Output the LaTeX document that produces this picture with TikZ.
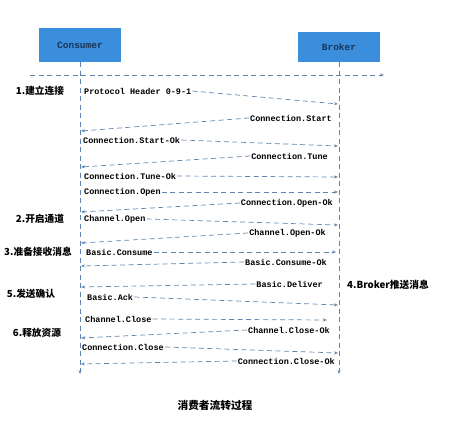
\documentclass[tikz,border=0pt]{standalone}
\usepackage{fontspec}
\newfontfamily\msgfont{Liberation Mono}
\newfontfamily\cjk{Noto Sans CJK SC}
\usetikzlibrary{arrows.meta,positioning}
\definecolor{boxBlue}{HTML}{3A8EDB}
\definecolor{lineBlue}{HTML}{5F84AE}
\definecolor{boxText}{HTML}{1B3558}

\tikzset{
    actor/.style={fill=boxBlue, text=boxText, minimum width=82pt, inner sep=0pt,
        font=\msgfont\bfseries\fontsize{9.5}{10}\selectfont},
    msg/.style={inner sep=1pt, font=\msgfont\bfseries\fontsize{8.5}{10}\selectfont},
    stage/.style={inner sep=0pt, font=\cjk\bfseries\fontsize{9.7}{11}\selectfont},
    flow/.style={draw=lineBlue, line width=0.7pt, dash pattern=on 5pt off 3.5pt,
        -{Stealth[length=4pt,width=3pt]}},
}

\begin{document}
\begin{tikzpicture}[x=1pt, y=-1pt]
    \useasboundingbox (0,0) rectangle (451,428);

    % participants
    \node[actor, minimum height=34pt] (consumer) at (80,45) {Consumer};
    \node[actor, minimum height=30pt] (broker) at (339,47) {Broker};
    \coordinate (cEnd) at (80,374);
    \coordinate (bEnd) at (339,374);
    \draw[flow] (consumer.south) -- (cEnd);
    \draw[flow] (broker.south) -- (bEnd);

    % top line
    \coordinate (topL) at (30,75);
    \coordinate (topR) at (384,75);
    \draw[flow] (topL) -- (topR);

    % messages
    \node[msg, anchor=west] (m1) at (83,91) {Protocol Header 0-9-1};
    \coordinate (e1) at (338,104);
    \draw[flow] (m1.east) -- (e1);
    \node[msg, anchor=east] (m2) at (333,118) {Connection.Start};
    \coordinate (e2) at (81,131);
    \draw[flow] (m2.west) -- (e2);
    \node[msg, anchor=west] (m3) at (82,140) {Connection.Start-Ok};
    \coordinate (e3) at (338,146);
    \draw[flow] (m3.east) -- (e3);
    \node[msg, anchor=east] (m4) at (329,156) {Connection.Tune};
    \coordinate (e4) at (81,167);
    \draw[flow] (m4.west) -- (e4);
    \node[msg, anchor=west] (m5) at (83,176) {Connection.Tune-Ok};
    \coordinate (e5) at (338,177);
    \draw[flow] (m5.east) -- (e5);
    \node[msg, anchor=west] (m6) at (83,192) {Connection.Open};
    \coordinate (e6) at (338,192);
    \draw[flow] (m6.east) -- (e6);
    \node[msg, anchor=east] (m7) at (334,203) {Connection.Open-Ok};
    \coordinate (e7) at (81,212);
    \draw[flow] (m7.west) -- (e7);
    \node[msg, anchor=west] (m8) at (83,219) {Channel.Open};
    \coordinate (e8) at (338,225);
    \draw[flow] (m8.east) -- (e8);
    \node[msg, anchor=east] (m9) at (327,233) {Channel.Open-Ok};
    \coordinate (e9) at (81,243);
    \draw[flow] (m9.west) -- (e9);
    \node[msg, anchor=west] (m10) at (85,252) {Basic.Consume};
    \coordinate (e10) at (336,252);
    \draw[flow] (m10.east) -- (e10);
    \node[msg, anchor=east] (m11) at (328,262) {Basic.Consume-Ok};
    \coordinate (e11) at (81,266);
    \draw[flow] (m11.west) -- (e11);
    \node[msg, anchor=east] (m12) at (324,284) {Basic.Deliver};
    \coordinate (e12) at (81,287);
    \draw[flow] (m12.west) -- (e12);
    \node[msg, anchor=west] (m13) at (86,297) {Basic.Ack};
    \coordinate (e13) at (338,305);
    \draw[flow] (m13.east) -- (e13);
    \node[msg, anchor=west] (m14) at (84,319) {Channel.Close};
    \coordinate (e14) at (327,320);
    \draw[flow] (m14.east) -- (e14);
    \node[msg, anchor=east] (m15) at (331,330) {Channel.Close-Ok};
    \coordinate (e15) at (81,338);
    \draw[flow] (m15.west) -- (e15);
    \node[msg, anchor=west] (m16) at (81,347) {Connection.Close};
    \coordinate (e16) at (338,353);
    \draw[flow] (m16.east) -- (e16);
    \node[msg, anchor=east] (m17) at (336,361) {Connection.Close-Ok};
    \coordinate (e17) at (81,364);
    \draw[flow] (m17.west) -- (e17);

    % stages
    \node[stage] (s1) at (40,91) {1.建立连接};
    \node[stage] (s2) at (40,219) {2.开启通道};
    \node[stage] (s3) at (38,252) {3.准备接收消息};
    \node[stage] (s4) at (388,285) {4.Broker推送消息};
    \node[stage] (s5) at (31,294) {5.发送确认};
    \node[stage] (s6) at (37,333) {6.释放资源};

    \node[stage, font=\cjk\bfseries\fontsize{10.7}{12}\selectfont] (caption) at (215,405) {消费者流转过程};
\end{tikzpicture}
\end{document}
